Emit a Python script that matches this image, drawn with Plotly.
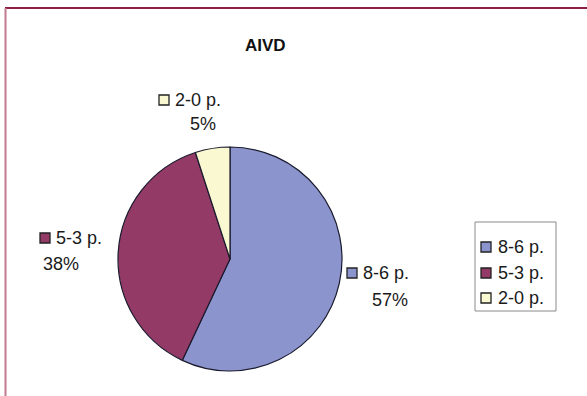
import plotly.graph_objects as go

W, H = 587, 396

title = "AIVD"
categories = ["8-6 p.", "5-3 p.", "2-0 p."]
values = [57, 38, 5]
colors = ["#8C94CD", "#933A66", "#FAF8D0"]

def px(x):
    return x / W

def py(y):
    return 1 - y / H

cx, cy, r = 230, 259, 112

fig = go.Figure(go.Pie(
    labels=categories,
    values=values,
    sort=False,
    direction="clockwise",
    rotation=0,
    textinfo="none",
    hoverinfo="label+percent",
    marker=dict(colors=colors, line=dict(color="#1a1a2e", width=1.2)),
    domain=dict(x=[px(cx - r), px(cx + r)], y=[py(cy + r), py(cy - r)]),
    showlegend=False,
))

shapes = []
annotations = []
font = dict(family="Liberation Sans, Arial, sans-serif", size=18, color="#1a1a1a")

# frame
shapes.append(dict(type="line", xref="paper", yref="paper", x0=px(5), x1=1, y0=py(8), y1=py(8),
                   line=dict(color="#8E1F40", width=2)))
shapes.append(dict(type="line", xref="paper", yref="paper", x0=px(5.5), x1=px(5.5), y0=py(8), y1=0,
                   line=dict(color="#C27A90", width=2)))

# title
annotations.append(dict(text="<b>" + title + "</b>", x=px(265), y=py(45), xref="paper", yref="paper",
                        showarrow=False, font=dict(family="Liberation Sans, Arial, sans-serif", size=17, color="#111"),
                        xanchor="center", yanchor="middle"))

# outside labels: (square center x, y, text left x, pct center x, pct y)
label_pos = [
    (352, 273, 361, 390, 300),
    (45, 238, 54, 61, 264),
    (164, 100, 173, 203, 124),
]
total = sum(values)
for i, (sx, sy, tx, pcx, pcy) in enumerate(label_pos):
    shapes.append(dict(type="rect", xref="paper", yref="paper",
                       x0=px(sx - 5), x1=px(sx + 5), y0=py(sy + 5), y1=py(sy - 5),
                       fillcolor=colors[i], line=dict(color="#222", width=1.3)))
    annotations.append(dict(text=categories[i], x=px(tx), y=py(sy), xref="paper", yref="paper",
                            showarrow=False, font=font, xanchor="left", yanchor="middle"))
    annotations.append(dict(text=f"{round(values[i] / total * 100)}%", x=px(pcx), y=py(pcy),
                            xref="paper", yref="paper", showarrow=False, font=font,
                            xanchor="center", yanchor="middle"))

# legend box
shapes.append(dict(type="rect", xref="paper", yref="paper",
                   x0=px(475), x1=px(556), y0=py(311), y1=py(222),
                   fillcolor="white", line=dict(color="#8a8a8a", width=1)))
leg_y = [247, 273, 298]
for i, ly in enumerate(leg_y):
    shapes.append(dict(type="rect", xref="paper", yref="paper",
                       x0=px(481), x1=px(491), y0=py(ly + 5), y1=py(ly - 5),
                       fillcolor=colors[i], line=dict(color="#222", width=1.3)))
    annotations.append(dict(text=categories[i], x=px(496), y=py(ly), xref="paper", yref="paper",
                            showarrow=False, font=font, xanchor="left", yanchor="middle"))

fig.update_layout(
    width=W, height=H,
    margin=dict(l=0, r=0, t=0, b=0),
    paper_bgcolor="white",
    plot_bgcolor="white",
    shapes=shapes,
    annotations=annotations,
)

fig.write_html("out.html")
